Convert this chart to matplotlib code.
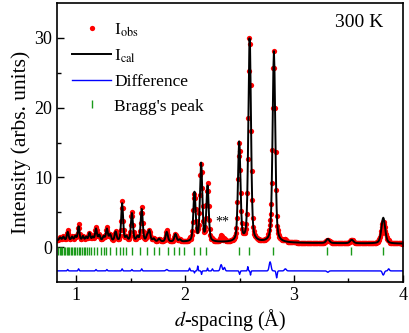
import numpy as np
import matplotlib
matplotlib.use("Agg")
import matplotlib.pyplot as plt

plt.rcParams["font.family"] = ["Liberation Serif", "DejaVu Serif"]
plt.rcParams["mathtext.fontset"] = "stix"

# peak list: d (A), height above background, fwhm
peak_d = [0.85, 0.88, 0.92, 0.96, 0.99, 1.02, 1.06, 1.09, 1.12, 1.15, 1.18, 1.21,
          1.25, 1.28, 1.31, 1.36, 1.42, 1.46, 1.51, 1.56, 1.60, 1.65, 1.67, 1.71,
          1.76, 1.83, 1.91, 1.95, 2.085, 2.146, 2.205, 2.496, 2.592, 2.815,
          3.31, 3.53, 3.82]
peak_h = [0.4, 0.5, 1.2, 0.5, 0.6, 2.0, 0.6, 0.5, 1.1, 0.5, 1.7, 0.8,
          0.6, 1.7, 0.9, 1.3, 5.4, 0.6, 4.0, 0.6, 4.6, 0.7, 1.5, 0.4,
          0.4, 1.4, 1.1, 0.3, 7.0, 11.2, 7.9, 14.3, 29.6, 27.4,
          0.6, 0.5, 3.7]
peak_w = [0.018, 0.018, 0.019, 0.018, 0.018, 0.019, 0.018, 0.018, 0.019, 0.018, 0.02, 0.02,
          0.02, 0.021, 0.021, 0.021, 0.021, 0.021, 0.022, 0.022, 0.022, 0.022, 0.023, 0.023,
          0.023, 0.024, 0.024, 0.024, 0.025, 0.025, 0.025, 0.027, 0.028, 0.029,
          0.034, 0.036, 0.04]

# background anchors
bg_d = [0.8, 1.5, 2.5, 4.0]
bg_v = [1.0, 0.8, 0.65, 0.5]

# misfit features (obs - cal): centre, amplitude, width
res_d = [0.92, 1.02, 1.18, 1.28, 1.42, 1.51, 1.60, 1.83, 2.04, 2.085, 2.115, 2.15,
         2.205, 2.25, 2.33, 2.36, 2.50, 2.575, 2.60, 2.78, 2.84, 2.92, 3.31, 3.82, 3.87]
res_a = [0.2, 0.3, 0.2, 0.2, 0.3, 0.2, 0.3, 0.2, 0.4, -0.3, 0.7, -0.5,
         0.4, 0.3, 0.9, 0.5, -0.5, 0.6, -0.6, 1.3, -1.0, 0.3, -0.2, -0.6, 0.3]
res_w = [0.01, 0.01, 0.01, 0.01, 0.01, 0.01, 0.01, 0.02, 0.01, 0.008, 0.008, 0.008,
         0.008, 0.01, 0.02, 0.015, 0.01, 0.008, 0.008, 0.02, 0.012, 0.02, 0.02, 0.02, 0.015]

bragg = [0.83, 0.845, 0.86, 0.87, 0.885, 0.895, 0.91, 0.92, 0.935, 0.95, 0.96, 0.975,
         0.99, 1.005, 1.02, 1.035, 1.05, 1.065, 1.08, 1.095, 1.12, 1.135, 1.166, 1.19,
         1.228, 1.252, 1.274, 1.304, 1.366, 1.396, 1.427, 1.458, 1.513, 1.583, 1.652,
         1.712, 1.759, 1.845, 1.894, 1.947, 1.986, 2.081, 2.134, 2.189, 2.496, 2.585,
         2.809, 3.301, 3.525, 3.814]

diff_offset = -3.4
bragg_y = -0.5

d = np.arange(0.82, 4.0, 0.005)


def pv(x, c, h, w):
    g = np.exp(-4 * np.log(2) * (x - c) ** 2 / w ** 2)
    l = 1 / (1 + 4 * (x - c) ** 2 / w ** 2)
    return h * (0.6 * g + 0.4 * l)


calc = np.interp(d, bg_d, bg_v)
for c, h, w in zip(peak_d, peak_h, peak_w):
    calc = calc + pv(d, c, h, w)

resid = np.zeros_like(d)
for c, a, w in zip(res_d, res_a, res_w):
    resid = resid + a * np.exp(-4 * np.log(2) * (d - c) ** 2 / w ** 2)

obs = calc + resid

fig = plt.figure(figsize=(4.09, 3.33), dpi=100)
ax = fig.add_axes([0.139, 0.153, 0.846, 0.838])

ax.plot(d, obs, "o", color="red", ms=3.8, mew=0, label=r"I$_{\rm obs}$")
ax.plot(d, calc, color="black", lw=1.4, label=r"I$_{\rm cal}$")
ax.plot(d, resid + diff_offset, color="blue", lw=1.0, label="Difference")
ax.plot(bragg, [bragg_y] * len(bragg), "|", color="#1a9a1a", ms=5.5, mew=1,
        label="Bragg's peak")

ax.text(2.34, 3.1, "**", fontsize=10, ha="center")
ax.text(3.6, 31.5, "300 K", fontsize=14, ha="center")

ax.set_xlim(0.82, 4.0)
ax.set_ylim(-5, 35)
ax.set_xticks([1, 2, 3, 4])
ax.set_xticks([1.5, 2.5, 3.5], minor=True)
ax.set_yticks([0, 10, 20, 30])
ax.set_yticks([5, 15, 25], minor=True)
ax.tick_params(direction="in", labelsize=13, length=5, width=1)
ax.tick_params(which="minor", direction="in", length=3, width=1)
for s in ax.spines.values():
    s.set_linewidth(1.2)

ax.set_xlabel(r"$d$-spacing (Å)", fontsize=14.5, labelpad=2)
ax.set_ylabel("Intensity (arbs. units)", fontsize=15.5, labelpad=2)

leg = ax.legend(loc="upper left", bbox_to_anchor=(0.0, 0.99), frameon=False,
                fontsize=12.5, handlelength=2.2, labelspacing=0.5,
                handletextpad=0.2, markerscale=1.0)

fig.savefig("out.png", dpi=100)
